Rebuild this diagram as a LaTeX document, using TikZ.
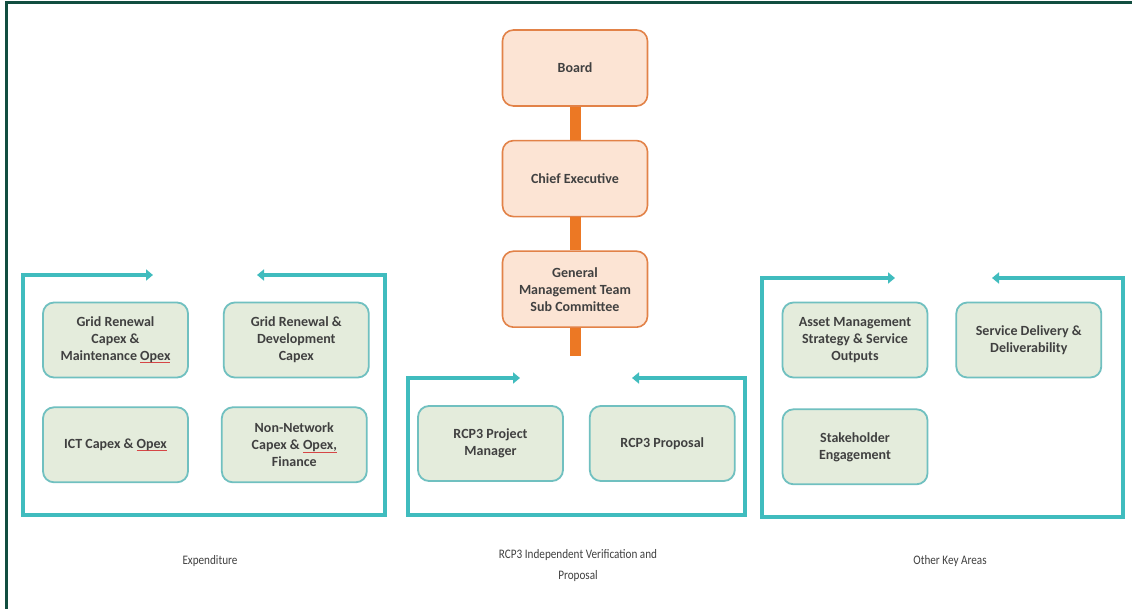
\documentclass[tikz,border=0pt]{standalone}
\usepackage{fontspec}
\setmainfont{Carlito}
\newfontfamily\capfont[FakeStretch=0.86]{Carlito}
\usetikzlibrary{positioning,arrows.meta}
\definecolor{frameteal}{RGB}{64,188,190}
\definecolor{areaedge}{RGB}{112,192,192}
\definecolor{areafill}{RGB}{228,236,220}
\definecolor{orgedge}{RGB}{226,130,72}
\definecolor{orgfill}{RGB}{252,228,212}
\definecolor{spineorange}{RGB}{236,120,36}
\definecolor{outergreen}{RGB}{18,78,64}
\definecolor{textgrey}{RGB}{64,64,64}
\definecolor{spellred}{RGB}{214,70,70}
\newcommand{\spellmark}[1]{\setbox0\hbox{#1}\rlap{\textcolor{spellred}{\rule[-3pt]{\wd0}{1pt}}}\box0}

\begin{document}
\begin{tikzpicture}[x=1pt, y=-1pt, node distance=33pt, every node/.style={font=\fontsize{14}{17}\selectfont\bfseries, text=textgrey, align=center}, orgbox/.style={draw=orgedge, line width=1.6pt, rounded corners=11pt, fill=orgfill, minimum width=145pt, minimum height=76pt}, areabox/.style={draw=areaedge, line width=1.8pt, rounded corners=11pt, fill=areafill, minimum width=145pt, minimum height=75pt}, spine/.style={draw=spineorange, line width=11pt}, bracket/.style={draw=frameteal, line width=4.5pt, {Triangle[length=7pt,width=11pt]}-{Triangle[length=7pt,width=11pt]}}, caption/.style={font=\capfont\fontsize{13}{21}\selectfont}]
\useasboundingbox (0,0) rectangle (1132,609);
\fill[white] (0,0) rectangle (1132,609);
\draw[outergreen, line width=3pt] (1132,3) -- (6,3) -- (6,609);
% governance chain
\node[orgbox] (board) at (575,68) {Board};
\node[orgbox, below=33pt of board] (chief) {Chief Executive};
\node[orgbox, below=33pt of chief] (gmt) {General\\ Management Team\\ Sub Committee};
\coordinate (spineend) at (575,356);
\draw[spine] (board) -- (chief);
\draw[spine] (chief) -- (gmt);
\draw[spine] (gmt) -- (spineend);
% expenditure
\draw[bracket] (153,275) -- (23,275) -- (23,515) -- (385,515) -- (385,275) -- (257,275);
\node[areabox] (gridmaint) at (115.5,340) {Grid Renewal\\ Capex \&\\ Maintenance \spellmark{Opex}};
\node[areabox, right=34pt of gridmaint] (griddev) {Grid Renewal \&\\ Development\\ Capex};
\node[areabox, below=28pt of gridmaint] (ict) {ICT Capex \& \spellmark{Opex}};
\node[areabox, right=32pt of ict] (nonnet) {Non-Network\\ Capex \& \spellmark{Opex,}\\ Finance};
% verification and proposal
\draw[bracket] (520,378) -- (408,378) -- (408,515) -- (745,515) -- (745,378) -- (632,378);
\node[areabox] (rcppm) at (490.5,443.5) {RCP3 Project\\ Manager};
\node[areabox, right=25pt of rcppm] (rcpprop) {RCP3 Proposal};
% other key areas
\draw[bracket] (895,278) -- (762,278) -- (762,517) -- (1123,517) -- (1123,278) -- (992,278);
\node[areabox] (assetmgmt) at (855,340) {Asset Management\\ Strategy \& Service\\ Outputs};
\node[areabox, right=27pt of assetmgmt] (servdel) {Service Delivery \&\\ Deliverability};
\node[areabox, below=30pt of assetmgmt] (stake) {Stakeholder\\ Engagement};
% captions
\node[caption] (expcap) at (210,561) {Expenditure};
\node[caption] (rcpcap) at (578,566) {RCP3 Independent Verification and\\ Proposal};
\node[caption] (othcap) at (950,561) {Other Key Areas};
\end{tikzpicture}
\end{document}
